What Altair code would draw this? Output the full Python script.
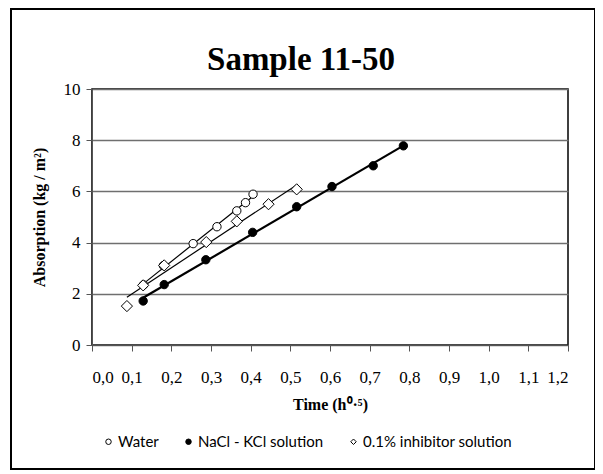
import altair as alt
import pandas as pd

series_names = ["Water", "NaCl - KCl solution", "0.1% inhibitor solution"]

water_t = [0.13, 0.18, 0.255, 0.315, 0.365, 0.387, 0.406]
water_v = [2.35, 3.1, 3.96, 4.62, 5.24, 5.56, 5.89]

nacl_t = [0.129, 0.182, 0.287, 0.405, 0.516, 0.605, 0.709, 0.785]
nacl_v = [1.72, 2.36, 3.33, 4.40, 5.40, 6.19, 7.00, 7.78]

inh_t = [0.088, 0.129, 0.182, 0.288, 0.365, 0.445, 0.516]
inh_v = [1.52, 2.33, 3.11, 4.02, 4.83, 5.50, 6.08]

x_ticks = [0.0, 0.1, 0.2, 0.3, 0.4, 0.5, 0.6, 0.7, 0.8, 0.9, 1.0, 1.1, 1.2]
y_ticks = [0, 2, 4, 6, 8, 10]

rows = []
for name, ts, vs in zip(series_names, [water_t, nacl_t, inh_t], [water_v, nacl_v, inh_v]):
    for t, v in zip(ts, vs):
        rows.append({"series": name, "t": t, "v": v})
df = pd.DataFrame(rows)

W, H = 476, 256

x_enc = alt.X(
    "t:Q",
    scale=alt.Scale(domain=[0, 1.2], nice=False, zero=False),
    axis=alt.Axis(
        values=x_ticks,
        labelExpr="replace(format(datum.value, '.1f'), '.', ',')",
        title="Time (h⁰·⁵)",
        grid=False,
        tickSize=6,
        labelPadding=18,
        titlePadding=11,
    ),
)
y_enc = alt.Y(
    "v:Q",
    scale=alt.Scale(domain=[0, 10], nice=False),
    axis=alt.Axis(
        values=y_ticks,
        title="Absorption  (kg / m²)",
        grid=True,
        tickSize=6,
        labelPadding=6,
        titlePadding=16,
    ),
)

legend = alt.Legend(
    orient="none",
    legendX=9,
    legendY=345,
    direction="horizontal",
    title=None,
    labelFont="Lato",
    labelFontSize=15,
    labelColor="black",
    labelOffset=2,
    symbolSize=30,
    symbolStrokeWidth=1,
    columnPadding=22,
)

shape_enc = alt.Shape(
    "series:N",
    scale=alt.Scale(domain=series_names, range=["circle", "circle", "diamond"]),
    legend=legend,
)
fill_enc = alt.Fill(
    "series:N",
    scale=alt.Scale(domain=series_names, range=["white", "black", "white"]),
    legend=legend,
)
stroke_enc = alt.Stroke(
    "series:N",
    scale=alt.Scale(domain=series_names, range=["black", "black", "black"]),
    legend=legend,
)

frame = alt.Chart(pd.DataFrame({"a": [0]})).mark_rect(
    fill="transparent", stroke="black", strokeWidth=2
).encode(
    x=alt.value(-81), x2=alt.value(503), y=alt.value(-80), y2=alt.value(380)
)

thin_lines = alt.Chart(df).transform_filter(
    alt.datum.series != series_names[1]
).transform_regression(
    "t", "v", groupby=["series"]
).mark_line(color="black", strokeWidth=1.2).encode(
    x=x_enc, y=y_enc, detail="series:N"
)

thick_line = alt.Chart(df).transform_filter(
    alt.datum.series == series_names[1]
).transform_regression(
    "t", "v"
).mark_line(color="black", strokeWidth=2.2).encode(
    x=x_enc, y=y_enc
)

circles = alt.Chart(df).transform_filter(
    alt.datum.series != series_names[2]
).mark_point(filled=True, strokeWidth=1, size=70, opacity=1).encode(
    x=x_enc, y=y_enc, shape=shape_enc, fill=fill_enc, stroke=stroke_enc
)

diamonds = alt.Chart(df).transform_filter(
    alt.datum.series == series_names[2]
).mark_point(filled=True, strokeWidth=1, size=125, opacity=1).encode(
    x=x_enc, y=y_enc, shape=shape_enc, fill=fill_enc, stroke=stroke_enc
)

chart = alt.layer(frame, thin_lines, thick_line, circles, diamonds).properties(
    width=W,
    height=H,
    padding={"left": 84, "top": 81, "right": 27, "bottom": 125},
    autosize=alt.AutoSizeParams(type="none"),
    background="white",
    title=alt.TitleParams(
        "Sample 11-50",
        font="Liberation Serif",
        fontSize=33,
        fontWeight="bold",
        color="black",
        anchor="middle",
        frame="group",
        dx=-29,
        offset=0,
        dy=69,
    ),
).configure_view(
    stroke="black", strokeWidth=1.5
).configure_axis(
    labelFont="Liberation Serif",
    labelFontSize=17,
    labelColor="black",
    titleFont="Liberation Serif",
    titleFontSize=16,
    titleFontWeight="bold",
    titleColor="black",
    domainColor="#555555",
    tickColor="#555555",
    gridColor="#6f6f6f",
    gridWidth=1.3,
)

chart.save("out.html", embed_options={"renderer": "svg", "actions": False})
